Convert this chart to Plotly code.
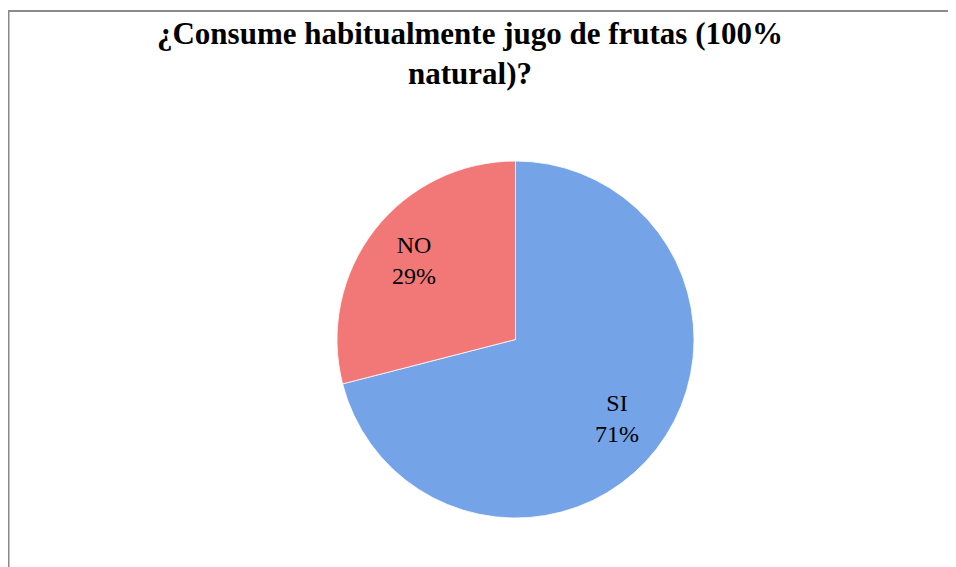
import math
import plotly.graph_objects as go

labels = ["SI", "NO"]
values = [71, 29]
colors = ["#74A3E7", "#F27878"]
title_text = "¿Consume habitualmente jugo de frutas (100%<br>natural)?"

# page body has an 8px margin, so figure coords = screen coords - 8
OFF = 8
W, H = 956, 567
cx, cy, r = 515.5 - OFF, 339.5 - OFF, 178.5

fig = go.Figure()
fig.add_trace(go.Pie(
    labels=labels,
    values=values,
    sort=False,
    direction="clockwise",
    rotation=0,
    marker=dict(colors=colors, line=dict(color="rgba(255,255,255,0.8)", width=1)),
    textinfo="none",
    showlegend=False,
    hoverinfo="label+percent",
    domain=dict(x=[(cx - r) / W, (cx + r) / W], y=[1 - (cy + r) / H, 1 - (cy - r) / H]),
))

# data labels placed at each slice's mid-angle
total = sum(values)
annotations = []
cum = 0.0
for lab, v in zip(labels, values):
    mid = (cum + v / 2) / total * 2 * math.pi
    cum += v
    rr = 0.72 * r
    px = cx + rr * math.sin(mid)
    py = cy - rr * math.cos(mid)
    annotations.append(dict(
        text=f"{lab}<br>{round(v / total * 100)}%",
        x=px / W, y=1 - py / H, xref="paper", yref="paper",
        xanchor="center", yanchor="middle", showarrow=False,
        font=dict(family="Liberation Serif", size=24, color="#000000"),
    ))

fig.update_layout(
    width=W, height=H,
    margin=dict(l=0, r=0, t=0, b=0),
    paper_bgcolor="white",
    plot_bgcolor="white",
    title=dict(
        text=title_text,
        x=(470 - OFF) / W, xanchor="center",
        y=1 - 36 / H, yanchor="top",
        font=dict(family="Liberation Serif", size=31, color="#000000", weight="bold"),
    ),
    annotations=annotations,
    shapes=[
        dict(type="line", xref="paper", yref="paper", x0=0, x1=1.01, y0=1 - 3 / H, y1=1 - 3 / H,
             line=dict(color="#8A8A8A", width=2)),
        dict(type="line", xref="paper", yref="paper", x0=0.5 / W, x1=0.5 / W, y0=1 - 2 / H, y1=-0.01,
             line=dict(color="#8A8A8A", width=2)),
    ],
)

fig.write_html("out.html")
